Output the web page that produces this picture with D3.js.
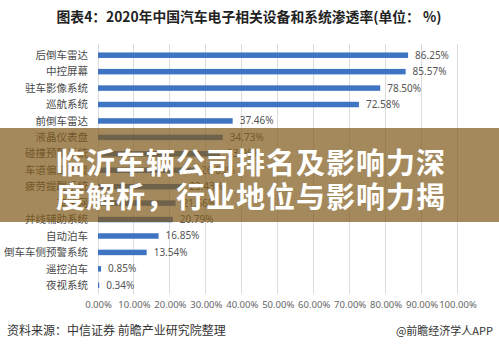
<!DOCTYPE html>
<html><head><meta charset="utf-8">
<script src="https://cdn.jsdelivr.net/npm/d3@7"></script>
<style>
html,body{margin:0;padding:0;background:#fff;}
svg{display:block;font-family:"Noto Sans CJK SC","Noto Sans",sans-serif;}
</style></head>
<body>
<svg id="chart" width="499" height="351"></svg>
<script>
const categories = ["后倒车雷达","中控屏幕","驻车影像系统","巡航系统","前倒车雷达","液晶仪表盘","碰撞预警系统","车道偏离预警","疲劳提醒系统","车联网","并线辅助系统","自动泊车","倒车车侧预警系统","遥控泊车","夜视系统"];
const values = [86.25,85.57,78.50,72.58,37.46,34.73,33.96,26.69,23.43,21.56,20.79,16.85,13.54,0.85,0.34];
const ticks = [0,10,20,30,40,50,60,70,80,90,100];
const title = "图表4：2020年中国汽车电子相关设备和系统渗透率(单位： %)";
const bannerLines = ["临沂车辆公司排名及影响力深","度解析，行业地位与影响力揭"];
const source = "资料来源：中信证券 前瞻产业研究院整理";
const brand = "@前瞻经济学人APP";

const svg = d3.select("#chart");
const x = d3.scaleLinear().domain([0,100]).range([98,457.5]);
const y = d3.scaleBand().domain(categories).range([47,293.5]).paddingInner(0);

svg.append("text").attr("x",249).attr("y",22).attr("text-anchor","middle")
  .attr("font-size",13.8).attr("font-weight","bold").attr("fill","#222").text(title);

// grid
svg.append("g").selectAll("line").data(ticks).join("line")
  .attr("x1",d=>x(d)).attr("x2",d=>x(d)).attr("y1",44).attr("y2",294)
  .attr("stroke","#dcdcdc").attr("stroke-width",1).attr("shape-rendering","crispEdges");

// axis tick labels
const ax = svg.append("g").attr("transform","translate(0,310)")
  .call(d3.axisBottom(x).tickValues(ticks).tickSize(0).tickPadding(0).tickFormat(d=>d.toFixed(2)+"%"));
ax.select(".domain").remove();
ax.selectAll("text").attr("font-size",9.5).attr("fill","#666").attr("dy","-0.2em")
  .attr("font-family","'Noto Sans','DejaVu Sans',sans-serif");

// category labels
svg.append("g").selectAll("text").data(categories).join("text")
  .attr("x",88).attr("y",d=>y(d)+y.bandwidth()/2).attr("dy","0.35em")
  .attr("text-anchor","end").attr("font-size",10.5).attr("fill","#4a4a4a").text(d=>d);

// bars
const h = 5.5;
svg.append("g").selectAll("rect").data(values).join("rect")
  .attr("x",x(0)).attr("y",(d,i)=>y(categories[i])+y.bandwidth()/2-h/2)
  .attr("width",d=>Math.max(1,x(d)-x(0))).attr("height",h).attr("fill","#3f74c2");

// value labels
svg.append("g").selectAll("text").data(values).join("text")
  .attr("x",d=>x(d)+7).attr("y",(d,i)=>y(categories[i])+y.bandwidth()/2).attr("dy","0.35em")
  .attr("font-size",10).attr("fill","#555")
  .attr("font-family","'Noto Sans','DejaVu Sans',sans-serif")
  .text(d=>d.toFixed(2)+"%");

// footer
svg.append("text").attr("x",7).attr("y",335).attr("font-size",12).attr("fill","#333").text(source);
svg.append("text").attr("x",493).attr("y",335).attr("text-anchor","end").attr("font-size",11).attr("fill","#333").text(brand);

// banner overlay
svg.append("rect").attr("x",0).attr("y",128).attr("width",499).attr("height",94)
  .attr("fill","rgb(129,92,29)").attr("fill-opacity",0.72);
svg.append("g").selectAll("text").data(bannerLines).join("text")
  .attr("x",251).attr("y",(d,i)=>164+i*34).attr("dy","0.35em").attr("text-anchor","middle")
  .attr("font-size",29).attr("font-weight","bold").attr("fill","#fff").attr("letter-spacing",1)
  .text(d=>d);
</script>
</body></html>
